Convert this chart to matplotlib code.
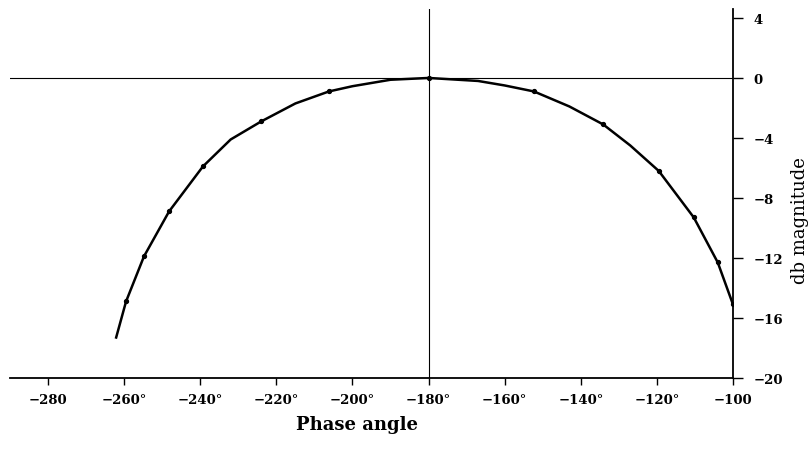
import matplotlib
matplotlib.use("Agg")
import matplotlib.pyplot as plt

# curve (degrees, db)
phase_deg = [-262.1, -259.5, -254.8, -248.2, -239.3, -232.0, -224.0, -215.0,
             -206.2, -200.0, -190.0, -180.0, -167.0, -160.0, -152.3, -143.0,
             -134.1, -127.0, -119.5, -110.3, -104.0, -100.0]
gain_db = [-17.3, -14.9, -11.9, -8.9, -5.9, -4.1, -2.9, -1.7,
           -0.9, -0.55, -0.12, 0.0, -0.2, -0.5, -0.9, -1.9,
           -3.1, -4.5, -6.2, -9.3, -12.3, -15.1]

# the dots marked on the curve
dot_deg = [-259.5, -254.8, -248.2, -239.3, -224.0, -206.2, -180.0,
           -152.3, -134.1, -119.5, -110.3, -104.0, -100.0]
dot_db = [-14.9, -11.9, -8.9, -5.9, -2.9, -0.9, 0.0,
          -0.9, -3.1, -6.2, -9.3, -12.3, -15.1]

x_ticks = [-280, -260, -240, -220, -200, -180, -160, -140, -120, -100]
x_labels = ["\u2212280", "\u2212260\u00b0", "\u2212240\u00b0", "\u2212220\u00b0",
            "\u2212200\u00b0", "\u2212180\u00b0", "\u2212160\u00b0", "\u2212140\u00b0",
            "\u2212120\u00b0", "\u2212100"]
y_ticks = [4, 0, -4, -8, -12, -16, -20]
y_labels = ["4", "0", "\u22124", "\u22128", "\u221212", "\u221216", "\u221220"]

plt.rcParams['font.family'] = ['DejaVu Serif']

fig = plt.figure(figsize=(8.12, 4.52), dpi=100)
ax = fig.add_axes([0.0123, 0.1615, 0.8904, 0.8165])

ax.axhline(0, color="black", lw=0.8)
ax.axvline(-180, color="black", lw=0.8)
ax.plot(phase_deg, gain_db, color="black", lw=1.8)
ax.plot(dot_deg, dot_db, linestyle="none", color="black", marker="o", markersize=2.8)

ax.set_xlim(-290, -100)
ax.set_ylim(-20, 4.6)

ax.spines['left'].set_visible(False)
ax.spines['top'].set_visible(False)
ax.spines['bottom'].set_linewidth(1.3)
ax.spines['right'].set_linewidth(1.3)

ax.set_xticks(x_ticks)
ax.set_xticklabels(x_labels, fontsize=9.5, fontweight="bold")
ax.set_yticks(y_ticks)
ax.set_yticklabels(y_labels, fontsize=9.5, fontweight="bold")
ax.yaxis.tick_right()
ax.tick_params(axis="x", direction="out", length=5, width=1, pad=6)
ax.tick_params(axis="y", direction="out", length=7, width=1, pad=8)

fig.text(0.44, 0.06, "Phase angle", fontsize=13, fontweight="bold",
         ha="center", va="center")
fig.text(0.985, 0.513, "db magnitude", fontsize=13, rotation=90,
         ha="center", va="center")

fig.savefig("out.png", dpi=100)
